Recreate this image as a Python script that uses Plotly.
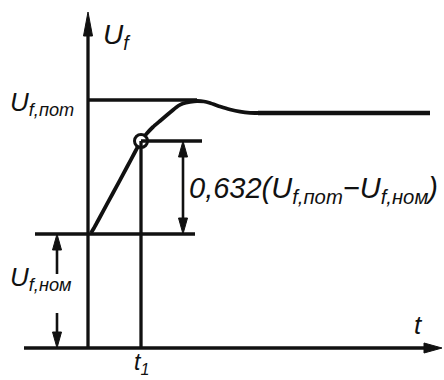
import plotly.graph_objects as go

# Step response of the excitation voltage U_f (time and voltage in arbitrary units)
t_curve = [0.3, 0.6, 0.9, 1.2, 2.5, 3.9, 4.7, 5.3, 5.6, 5.9, 6.5, 7.2, 7.9, 8.5, 9.0, 9.5,
           10.2, 10.9, 11.6, 12.2, 13.2, 14.2, 15.2, 16.2, 17.0]
u_curve = [11.5, 12.0, 12.55, 13.1, 15.5, 18.1, 19.6, 20.7, 21.1, 21.47, 22.1, 22.7, 23.3, 23.8, 24.2, 24.45,
           24.62, 24.7, 24.65, 24.5, 24.15, 23.85, 23.63, 23.52, 23.5]

U_NOM = 11.4      # initial (nominal) level
U_POT = 24.8      # ceiling level
U_SET = 23.5      # settled level
T1 = 5.3          # time constant t1
U_T1 = 20.7       # level reached at t1
T_END = 34.2      # end of the settled line

X_RANGE = [-8.8, 35.6]
Y_RANGE = [-3.2, 34.8]
W_PX, H_PX = 444, 380
SX = W_PX / (X_RANGE[1] - X_RANGE[0])   # pixels per time unit
SY = H_PX / (Y_RANGE[1] - Y_RANGE[0])   # pixels per voltage unit

FONT = "Liberation Sans Narrow, Liberation Sans, DejaVu Sans, sans-serif"
INK = "#111111"
LW = 3.3

fig = go.Figure()

# transient part of the curve
fig.add_trace(go.Scatter(x=t_curve, y=u_curve, mode="lines",
                         line=dict(color=INK, width=3.8, shape="spline", smoothing=0.3),
                         hoverinfo="skip"))
# settled value
fig.add_trace(go.Scatter(x=[t_curve[-1], T_END], y=[U_SET, U_SET], mode="lines",
                         line=dict(color=INK, width=4.6), hoverinfo="skip"))

def seg(x0, y0, x1, y1, w=LW):
    fig.add_shape(type="line", x0=x0, x1=x1, y0=y0, y1=y1, xref="x", yref="y",
                  line=dict(color=INK, width=w))

def head(x, y, ux, uy, length, half):
    """Filled arrowhead with its tip at (x, y) pointing along (ux, uy); sizes in pixels."""
    bx, by = x - ux * length / SX, y - uy * length / SY
    px, py = -uy * half / SX, ux * half / SY
    path = (f"M {x} {y} L {bx + px} {by + py} L {bx - px} {by - py} Z")
    fig.add_shape(type="path", path=path, xref="x", yref="y",
                  fillcolor=INK, line=dict(color=INK, width=1))

# axes with arrowheads
seg(0, 0, 0, 31.5)
head(0, 33.6, 0, 1, 24, 4.5)
seg(-6.4, 0, 33.8, 0)
head(35.4, 0, 1, 0, 18, 5)

# reference levels
seg(0, U_POT, 10.9, U_POT)
seg(-5.3, U_NOM, 10.7, U_NOM)
seg(T1, U_T1, 11.4, U_T1)
seg(T1, 0, T1, U_T1)

# point at t1
fig.add_trace(go.Scatter(x=[T1], y=[U_T1], mode="markers",
                         marker=dict(size=13, color="white", line=dict(color=INK, width=3)),
                         hoverinfo="skip"))

# dimension: 0.632 of the step
X_DIM = 9.5
seg(X_DIM, U_NOM + 1.2, X_DIM, U_T1 - 1.2, w=2.6)
head(X_DIM, U_T1, 0, 1, 16, 4.5)
head(X_DIM, U_NOM, 0, -1, 16, 4.5)

# dimension: nominal level
X_NOM = -3.1
seg(X_NOM, 7.4, X_NOM, U_NOM - 1.2, w=2.6)
head(X_NOM, U_NOM, 0, 1, 16, 4.5)
seg(X_NOM, 1.2, X_NOM, 3.5, w=2.6)
head(X_NOM, 0, 0, -1, 16, 4.5)

def label(text, x, y, size, xanchor="left", yanchor="middle"):
    fig.add_annotation(x=x, y=y, xref="x", yref="y", text=text, showarrow=False,
                       xanchor=xanchor, yanchor=yanchor,
                       font=dict(family=FONT, size=size, color=INK, style="italic"))

label("U<sub>f</sub>", 1.3, 31.2, 28)
label("U<sub>f,пот</sub>", -8.0, 24.5, 26)
label("U<sub>f,ном</sub>", -8.0, 7.0, 26)
label("0,632(U<sub>f,пот</sub>−U<sub>f,ном</sub>)", 9.9, 15.8, 29)
label("t", 32.4, 2.3, 26)
label("t<sub>1</sub>", T1, -1.5, 23, xanchor="center")

fig.update_layout(
    width=W_PX, height=H_PX, margin=dict(l=0, r=0, t=0, b=0),
    paper_bgcolor="white", plot_bgcolor="white", showlegend=False,
    xaxis=dict(range=X_RANGE, visible=False, fixedrange=True),
    yaxis=dict(range=Y_RANGE, visible=False, fixedrange=True),
)

fig.write_html("out.html")
